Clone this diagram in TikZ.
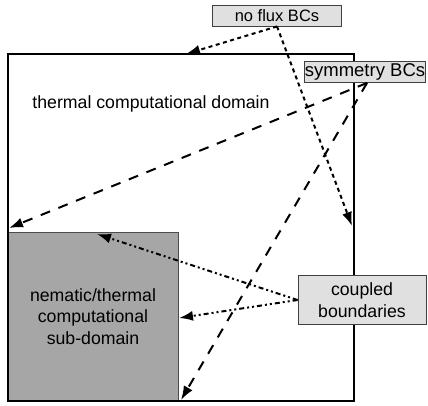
\documentclass[tikz,border=0pt]{standalone}
\usepackage{fontspec}
\setmainfont{Liberation Sans}
\usepackage{tikz}
\usetikzlibrary{arrows.meta}
\usetikzlibrary{positioning}
\definecolor{boxgray}{RGB}{224,224,224}
\definecolor{subgray}{RGB}{166,166,166}
\tikzstyle{maindom}=[draw=black,line width=2.2pt,inner sep=0pt]
\tikzstyle{subdom}=[draw=black!70,fill=subgray,line width=0.8pt,inner sep=0pt,align=center,
        font=\fontsize{17.7}{21.5}\selectfont]
\tikzstyle{domtext}=[font=\fontsize{17.7}{21.5}\selectfont]
\tikzstyle{bcbox}=[rectangle,draw=black!75,fill=boxgray,line width=0.9pt,inner sep=0pt,align=center]
\tikzstyle{noflux}=[-{Latex[length=14pt,width=10pt]},line width=2pt,dash pattern=on 4pt off 3.5pt]
\tikzstyle{symm}=[-{Latex[length=14pt,width=10pt]},line width=2pt,dash pattern=on 10pt off 9pt]
\tikzstyle{coupled}=[-{Latex[length=14pt,width=10pt]},line width=2pt,
        dash pattern=on 5pt off 3pt on 2pt off 3pt on 2pt off 3pt]

\begin{document}
\begin{tikzpicture}[x=1pt,y=-1pt]
\useasboundingbox (0,0) rectangle (428,406);
\node[subdom,minimum width=170,minimum height=169] (sub) at (93,316.5)
        {nematic/thermal\\computational\\sub-domain};
\node[maindom,minimum width=346,minimum height=347] (dom) at (181,227.5) {};
\node[domtext] (thermal) at (151,104) {thermal computational domain};
\node[bcbox,minimum width=129,minimum height=21,font=\fontsize{16.5}{19}\selectfont] (nof) at (277,15.5) {no flux BCs};
\node[bcbox,minimum width=121,minimum height=21,font=\fontsize{18.5}{21}\selectfont] (sym) at (365,72) {symmetry BCs};
\node[bcbox,minimum width=128,minimum height=49,font=\fontsize{17.7}{21.5}\selectfont] (cpl) at (362,300) {coupled\\boundaries};
%arrow ends
\coordinate (topend) at (186,54);
\coordinate (rightend) at (352,226);
\coordinate (leftend) at (9,228);
\coordinate (bottomend) at (181,400);
\coordinate (subtop) at (97,234);
\coordinate (subright) at (179,318);
%Drawing Edges
\draw[noflux] (nof.south) -- (topend);
\draw[noflux] (nof.south) -- (rightend);
\draw[symm] ([xshift=2pt]sym.south) -- (leftend);
\draw[symm] ([xshift=2pt]sym.south) -- (bottomend);
\draw[coupled] (cpl.west) -- (subtop);
\draw[coupled] (cpl.west) -- (subright);
\end{tikzpicture}
\end{document}
